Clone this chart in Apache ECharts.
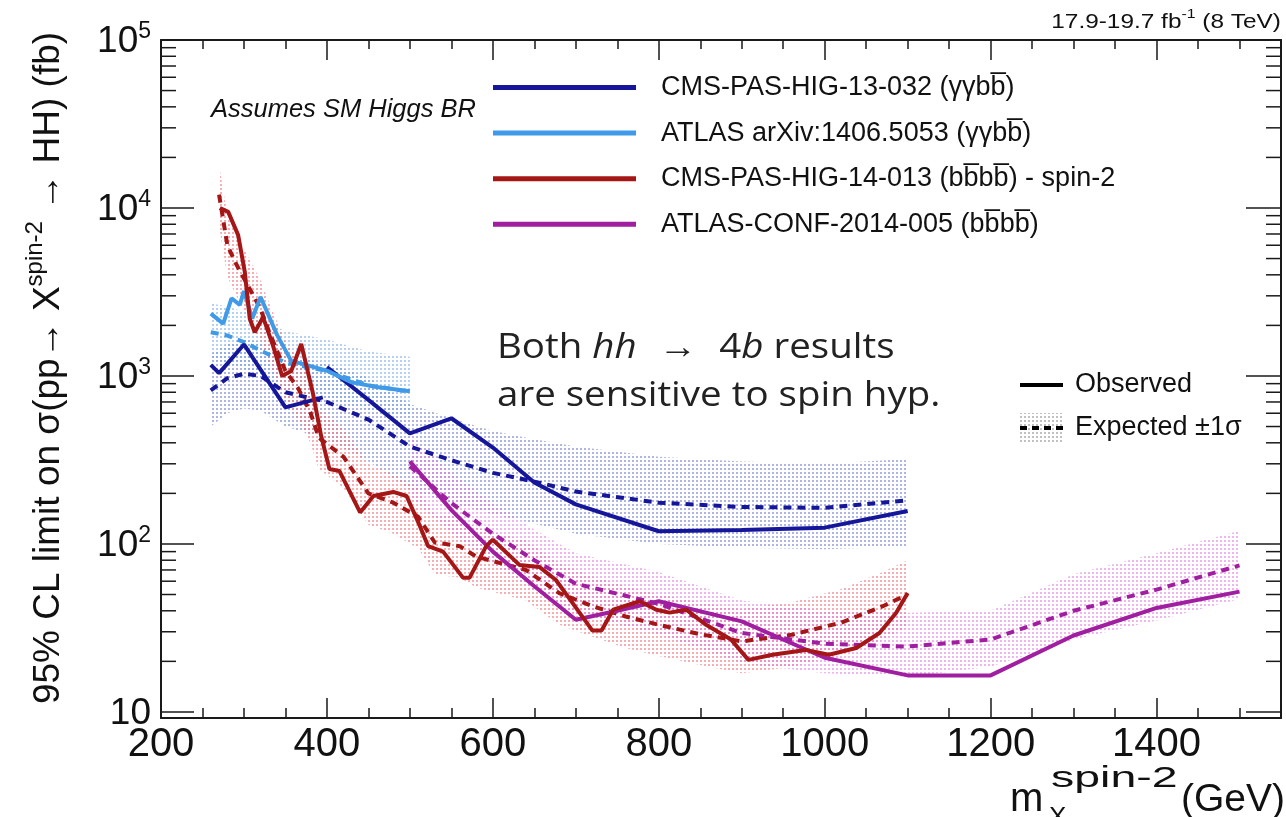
<!DOCTYPE html>
<html><head><meta charset="utf-8">
<script src="https://cdn.jsdelivr.net/npm/echarts@6/dist/echarts.min.js"></script>
<style>html,body{margin:0;padding:0;background:#fff}#c{width:1286px;height:817px}</style>
</head><body><div id="c"></div>
<script>
// ---------------- data ----------------
// CMS-PAS-HIG-13-032 (γγbb̄)
const cmsGGLowX   = [260, 270, 300, 350, 395];
const cmsGGLowObs = [1164, 1040, 1540, 650, 746];
const cmsGGHighX  = [400, 450, 500, 550, 600, 650, 700, 800, 900, 1000, 1100];
const cmsGGHighObs= [1130, 720, 455, 560, 375, 232, 172, 119, 121, 125, 157];
const cmsGGExpX   = [260, 280, 300, 320, 350, 400, 450, 500, 550, 600, 650, 700, 800, 900, 1000, 1100];
const cmsGGExp    = [820, 970, 1030, 1000, 800, 700, 550, 380, 315, 265, 235, 205, 176, 166, 164, 182];
const cmsGGBandHi = [1350, 1550, 1650, 1600, 1300, 1200, 980, 680, 560, 470, 420, 380, 330, 310, 300, 320];
const cmsGGBandLo = [500, 600, 640, 620, 500, 420, 310, 210, 175, 150, 132, 115, 100, 95, 93, 97];

// ATLAS arXiv:1406.5053 (γγbb̄)
const atlasGGX    = [260, 275, 285, 295, 300, 310, 320, 340, 357, 400, 430, 460, 500];
const atlasGGObs  = [2350, 2050, 2900, 2650, 3200, 2200, 2950, 1750, 1230, 1075, 916, 860, 811];
const atlasGGExpX = [260, 280, 300, 325, 350, 400, 450, 500];
const atlasGGExp  = [1820, 1740, 1590, 1380, 1200, 1070, 880, 805];
const atlasGGBandHi = [2700, 2600, 2400, 2100, 1850, 1650, 1400, 1300];
const atlasGGBandLo = [1250, 1200, 1100, 960, 840, 740, 620, 570];

// CMS-PAS-HIG-14-013 (bb̄bb̄) - spin-2
const cmsBBX   = [271, 281, 293, 301, 307, 313, 323, 335, 346, 357, 369, 383, 393, 403, 415, 440, 456, 480, 496, 512,
                  522, 540, 564, 572, 592, 600, 632, 656, 676, 696, 720, 731, 745, 777, 797, 813, 833, 857, 887, 908,
                  937, 977, 1005, 1038, 1066, 1086, 1100];
const cmsBBObs = [10000, 9480, 6890, 4160, 2190, 1820, 2240, 1516, 1000, 1070, 1550, 794, 440, 279, 272, 154, 193, 204, 193, 128,
                  97, 90, 63, 63, 97, 106, 75, 73, 61, 44.6, 30.5, 30.5, 40.6, 45.6, 40.6, 39, 40.6, 33, 27, 20.4,
                  21.9, 23.4, 21.9, 24, 29.5, 38.8, 51];
const cmsBBExpX = [270, 280, 290, 300, 310, 320, 330, 350, 365, 380, 390, 420, 450, 480, 510, 530, 560, 580, 640, 680,
                   720, 760, 800, 850, 900, 960, 1020, 1070, 1100];
const cmsBBExp  = [12000, 6000, 4700, 3800, 3100, 2500, 1850, 1070, 850, 610, 430, 330, 200, 176, 145, 102, 97, 84, 70, 51,
                   42.6, 37, 33, 29, 26.3, 28.8, 34, 42.6, 50];
const cmsBBBandHi = [18000, 9000, 7000, 5700, 4600, 3700, 2750, 1600, 1270, 910, 640, 490, 300, 260, 215, 150, 145, 125, 105, 77,
                     64, 56, 50, 45, 41, 45, 54, 68, 80];
const cmsBBBandLo = [7800, 3900, 3050, 2450, 2000, 1620, 1200, 700, 550, 400, 280, 215, 130, 115, 94, 66, 63, 55, 46, 33,
                     28, 24, 21.5, 19, 17, 18.5, 22, 27, 32];

// ATLAS-CONF-2014-005 (bb̄bb̄)
const atlasBBX    = [500, 550, 600, 650, 700, 750, 800, 900, 1000, 1100, 1200, 1300, 1400, 1500];
const atlasBBObs  = [310, 159, 90, 56, 35.4, 40, 45.6, 34.6, 21, 16.5, 16.5, 28.5, 41.6, 52];
const atlasBBExpX = [500, 550, 600, 650, 700, 800, 900, 1000, 1100, 1200, 1300, 1400, 1500];
const atlasBBExp  = [290, 175, 115, 80, 58, 44, 29.5, 25.5, 24.5, 27, 40, 53.5, 74.5];
const atlasBBBandHi = [440, 265, 175, 122, 88, 68, 46, 40, 39, 40, 66, 88, 120];
const atlasBBBandLo = [190, 115, 76, 53, 38, 29, 19.5, 17, 16.2, 18.6, 27, 35, 47];

// axes
const xMin = 200, xMax = 1550;
const yMin = 9.2, yMax = 100000;
const yMinorTicks = [20,30,40,50,60,70,80,90, 200,300,400,500,600,700,800,900,
                     2000,3000,4000,5000,6000,7000,8000,9000, 20000,30000,40000,50000,60000,70000,80000,90000];

const names = {
  cmsGG: 'CMS-PAS-HIG-13-032 (\u03b3\u03b3bb\u0305)',
  atlasGG: 'ATLAS arXiv:1406.5053 (\u03b3\u03b3bb\u0305)',
  cmsBB: 'CMS-PAS-HIG-14-013 (bb\u0305bb\u0305) - spin-2',
  atlasBB: 'ATLAS-CONF-2014-005 (bb\u0305bb\u0305)'
};
const colors = { cmsGG: '#16169a', atlasGG: '#3f9be8', cmsBB: '#a51616', atlasBB: '#a01ea0' };

// ---------------- helpers ----------------
function dots(color) {
  const c = document.createElement('canvas'); c.width = 4; c.height = 4;
  const g = c.getContext('2d'); g.fillStyle = color; g.fillRect(0, 0, 2, 2);
  return { image: c, repeat: 'repeat' };
}
const pairs = (xs, ys) => xs.map((x, i) => [x, ys[i]]);
function band(xs, lo, hi, fill) {
  return { type: 'custom', silent: true, z: 1, clip: true,
    data: xs.map((x, i) => [x, lo[i], hi[i]]),
    encode: { x: 0, y: [1, 2] },
    renderItem: (params, api) => {
      if (params.dataIndex !== 0) return null;
      const top = xs.map((x, i) => api.coord([x, hi[i]]));
      const bot = xs.map((x, i) => api.coord([x, lo[i]])).reverse();
      return { type: 'polygon', shape: { points: top.concat(bot) }, style: { fill: fill } };
    } };
}
function line(name, xs, ys, color, dashed, z) {
  return { type: 'line', name: name, data: pairs(xs, ys), symbol: 'none', silent: true, z: z,
    lineStyle: { color: color, width: 4, type: dashed ? [8, 6] : 'solid' }, itemStyle: { color: color } };
}

const axisLineStyle = { color: '#1a1a1a', width: 2 };
const tickStyle = { color: '#1a1a1a', width: 1.5 };
const font = "'Liberation Sans', Arial, sans-serif";
const sans = "'Open Sans', sans-serif";

const option = {
  animation: false,
  grid: { left: 161, right: 5, top: 40, bottom: 99, containLabel: false },
  xAxis: [
    { type: 'value', position: 'bottom', min: xMin, max: xMax, interval: 200,
      axisLine: { lineStyle: axisLineStyle }, axisTick: { inside: true, length: 20, lineStyle: tickStyle },
      axisLabel: { fontSize: 40, fontFamily: font, color: '#111', margin: 7,
        formatter: v => (v % 200 === 0 && v <= 1400) ? String(v) : '' },
      splitLine: { show: false } },
    { type: 'value', position: 'bottom', min: xMin, max: xMax, interval: 50,
      axisLine: { show: false }, axisTick: { inside: true, length: 10, lineStyle: tickStyle },
      axisLabel: { show: false }, splitLine: { show: false } },
    { type: 'value', position: 'top', min: xMin, max: xMax, interval: 200,
      axisLine: { lineStyle: axisLineStyle }, axisTick: { inside: true, length: 20, lineStyle: tickStyle },
      axisLabel: { show: false }, splitLine: { show: false } },
    { type: 'value', position: 'top', min: xMin, max: xMax, interval: 50,
      axisLine: { show: false }, axisTick: { inside: true, length: 9, lineStyle: tickStyle },
      axisLabel: { show: false }, splitLine: { show: false } }
  ],
  yAxis: [
    { type: 'log', logBase: 10, position: 'left', min: yMin, max: yMax,
      axisLine: { lineStyle: axisLineStyle }, axisTick: { inside: true, length: 33, lineStyle: tickStyle },
      splitLine: { show: false },
      axisLabel: { margin: 10, color: '#111',
        formatter: v => {
          const e = Math.round(Math.log10(v));
          if (Math.abs(v - Math.pow(10, e)) / v > 1e-6) return '';
          return e === 1 ? '{b|10}' : '{b|10}{s|' + e + '}';
        },
        rich: {
          b: { fontSize: 37, fontFamily: font, color: '#111', lineHeight: 40, verticalAlign: 'bottom' },
          s: { fontSize: 23, fontFamily: font, color: '#111', lineHeight: 22, verticalAlign: 'top' }
        } } },
    { type: 'log', logBase: 10, position: 'right', min: yMin, max: yMax,
      axisLine: { lineStyle: axisLineStyle }, axisTick: { inside: true, length: 35, lineStyle: tickStyle },
      axisLabel: { show: false }, splitLine: { show: false } }
  ],
  legend: {
    orient: 'vertical', left: 488, top: 69, itemWidth: 143, itemHeight: 5, itemGap: 18.6,
    icon: 'rect',
    data: [names.cmsGG, names.atlasGG, names.cmsBB, names.atlasBB],
    textStyle: { fontSize: 27, fontFamily: font, color: '#111', padding: [0, 0, 0, 20] },
    selectedMode: false
  },
  series: [
    band(cmsGGExpX, cmsGGBandLo, cmsGGBandHi, dots('rgba(140,150,215,0.7)')),
    band(atlasGGExpX, atlasGGBandLo, atlasGGBandHi, dots('rgba(120,170,230,0.55)')),
    band(cmsBBExpX, cmsBBBandLo, cmsBBBandHi, dots('rgba(240,120,130,0.6)')),
    band(atlasBBExpX, atlasBBBandLo, atlasBBBandHi, dots('rgba(225,120,225,0.55)')),
    line(names.cmsGG + ' exp', cmsGGExpX, cmsGGExp, colors.cmsGG, true, 3),
    line(names.atlasGG + ' exp', atlasGGExpX, atlasGGExp, colors.atlasGG, true, 3),
    line(names.cmsBB + ' exp', cmsBBExpX, cmsBBExp, colors.cmsBB, true, 3),
    line(names.atlasBB + ' exp', atlasBBExpX, atlasBBExp, colors.atlasBB, true, 3),
    line(names.cmsGG, cmsGGLowX, cmsGGLowObs, colors.cmsGG, false, 4),
    line(names.cmsGG, cmsGGHighX, cmsGGHighObs, colors.cmsGG, false, 4),
    line(names.atlasGG, atlasGGX, atlasGGObs, colors.atlasGG, false, 4),
    line(names.atlasBB, atlasBBX, atlasBBObs, colors.atlasBB, false, 4),
    line(names.cmsBB, cmsBBX, cmsBBObs, colors.cmsBB, false, 5),
    { type: 'custom', silent: true, z: 6, clip: false,
      data: yMinorTicks.map(v => [xMin, v]),
      renderItem: (params, api) => {
        const v = api.value(1);
        const l = api.coord([xMin, v]);
        const r = api.coord([xMax, v]);
        return { type: 'group', children: [
          { type: 'line', shape: { x1: l[0], y1: l[1], x2: l[0] + 15, y2: l[1] }, style: { stroke: '#1a1a1a', lineWidth: 1.5 } },
          { type: 'line', shape: { x1: r[0] - 15, y1: r[1], x2: r[0], y2: r[1] }, style: { stroke: '#1a1a1a', lineWidth: 1.5 } }
        ] };
      } }
  ],
  graphic: [
    // y-axis title
    { type: 'text', x: 45, y: 368, rotation: Math.PI / 2,
      style: { text: '{a|95% CL limit on \u03c3(pp\u2192 X}{s|spin-2}{a| \u2192 HH) (fb)}', textAlign: 'center', textVerticalAlign: 'middle',
        rich: { a: { fontSize: 37, fontFamily: font, fill: '#111', lineHeight: 44, verticalAlign: 'bottom' },
                s: { fontSize: 24, fontFamily: font, fill: '#111', lineHeight: 24, verticalAlign: 'top' } } } },
    // x-axis title
    { type: 'text', x: 1010, y: 800, style: { text: 'm', fontSize: 40, fontFamily: font, fill: '#111', textAlign: 'left', textVerticalAlign: 'middle' } },
    { type: 'text', x: 1051, y: 779, scaleX: 1.55, style: { text: 'spin-2', fontSize: 30, fontFamily: font, fill: '#111', textAlign: 'left', textVerticalAlign: 'middle' } },
    { type: 'text', x: 1049, y: 818, style: { text: 'X', fontSize: 26, fontFamily: font, fill: '#111', textAlign: 'left', textVerticalAlign: 'middle' } },
    { type: 'text', x: 1181, y: 800, style: { text: '(GeV)', fontSize: 39, fontFamily: font, fill: '#111', textAlign: 'left', textVerticalAlign: 'middle' } },
    // luminosity
    { type: 'text', x: 1281, y: 20, scaleX: 1.22, style: { text: '{a|17.9-19.7 fb}{s|-1}{a| (8 TeV)}', textAlign: 'right', textVerticalAlign: 'middle',
        rich: { a: { fontSize: 20, fontFamily: font, fill: '#111', lineHeight: 24, verticalAlign: 'bottom' },
                s: { fontSize: 13, fontFamily: font, fill: '#111', lineHeight: 13, verticalAlign: 'top' } } } },
    // note
    { type: 'text', x: 211, y: 110, style: { text: 'Assumes SM Higgs BR', fontSize: 25.5, fontStyle: 'italic', fontFamily: font, fill: '#111', textAlign: 'left', textVerticalAlign: 'middle' } },
    // annotation
    { type: 'text', x: 497, y: 348, scaleX: 1.1, style: { text: '{n|Both }{i|hh}{a|\u2192}{n|4}{i|b}{n| results}', textAlign: 'left', textVerticalAlign: 'middle',
        rich: { n: { fontSize: 35, fontFamily: sans, fill: '#222' },
                a: { fontSize: 35, fontFamily: sans, fill: '#222', padding: [0, 20, 0, 20] },
                i: { fontSize: 35, fontFamily: sans, fontStyle: 'italic', fill: '#222' } } } },
    { type: 'text', x: 497, y: 396, scaleX: 1.1, style: { text: 'are sensitive to spin hyp.', fontSize: 35, fontFamily: sans, fill: '#222', textAlign: 'left', textVerticalAlign: 'middle' } },
    // observed / expected key
    { type: 'line', shape: { x1: 1020, y1: 385, x2: 1063, y2: 385 }, style: { stroke: '#000', lineWidth: 4 } },
    { type: 'rect', shape: { x: 1020, y: 413, width: 43, height: 30 }, style: { fill: dots('rgba(150,150,150,0.6)') } },
    { type: 'line', shape: { x1: 1020, y1: 428, x2: 1063, y2: 428 }, style: { stroke: '#000', lineWidth: 4, lineDash: [7, 5] } },
    { type: 'text', x: 1075, y: 385, style: { text: 'Observed', fontSize: 27, fontFamily: font, fill: '#111', textAlign: 'left', textVerticalAlign: 'middle' } },
    { type: 'text', x: 1075, y: 428, style: { text: 'Expected \u00b11\u03c3', fontSize: 27, fontFamily: font, fill: '#111', textAlign: 'left', textVerticalAlign: 'middle' } }
  ]
};
const chart = echarts.init(document.getElementById('c'), null, { renderer: 'canvas' });
chart.setOption(option);
</script></body></html>
